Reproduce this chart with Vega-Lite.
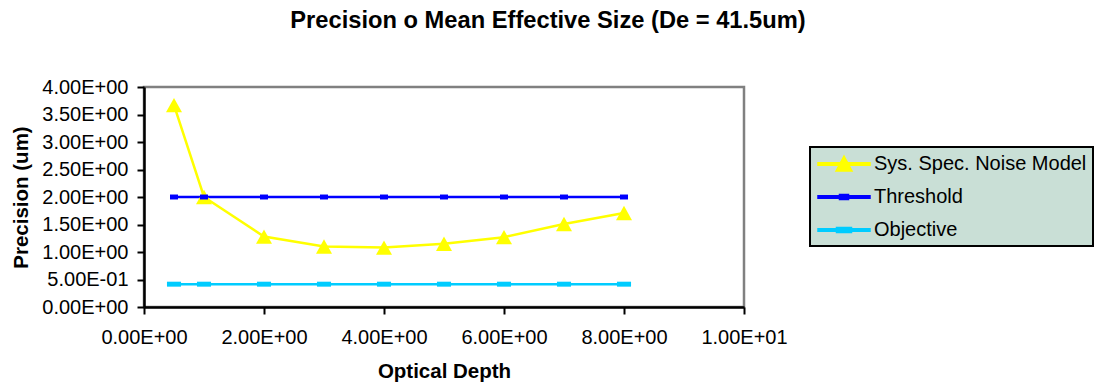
{
  "$schema": "https://vega.github.io/schema/vega-lite/v6.json",
  "width": 600,
  "height": 220,
  "autosize": {"type": "none"},
  "padding": {"left": 144, "top": 87, "right": 352, "bottom": 83},
  "background": "white",
  "title": {
    "text": "Precision o Mean Effective Size (De = 41.5um)",
    "font": "Liberation Sans",
    "fontSize": 23.7,
    "fontWeight": "bold",
    "color": "black",
    "anchor": "middle",
    "baseline": "alphabetic",
    "offset": 25,
    "dx": 104
  },
  "data": {
    "values": [
      {"series": "Sys. Spec. Noise Model", "x": 0.5, "y": 3.67},
      {"series": "Sys. Spec. Noise Model", "x": 1, "y": 2.0},
      {"series": "Sys. Spec. Noise Model", "x": 2, "y": 1.28},
      {"series": "Sys. Spec. Noise Model", "x": 3, "y": 1.1},
      {"series": "Sys. Spec. Noise Model", "x": 4, "y": 1.08},
      {"series": "Sys. Spec. Noise Model", "x": 5, "y": 1.15},
      {"series": "Sys. Spec. Noise Model", "x": 6, "y": 1.27},
      {"series": "Sys. Spec. Noise Model", "x": 7, "y": 1.51},
      {"series": "Sys. Spec. Noise Model", "x": 8, "y": 1.71},
      {"series": "Threshold", "x": 0.5, "y": 2.0},
      {"series": "Threshold", "x": 1, "y": 2.0},
      {"series": "Threshold", "x": 2, "y": 2.0},
      {"series": "Threshold", "x": 3, "y": 2.0},
      {"series": "Threshold", "x": 4, "y": 2.0},
      {"series": "Threshold", "x": 5, "y": 2.0},
      {"series": "Threshold", "x": 6, "y": 2.0},
      {"series": "Threshold", "x": 7, "y": 2.0},
      {"series": "Threshold", "x": 8, "y": 2.0},
      {"series": "Objective", "x": 0.5, "y": 0.415},
      {"series": "Objective", "x": 1, "y": 0.415},
      {"series": "Objective", "x": 2, "y": 0.415},
      {"series": "Objective", "x": 3, "y": 0.415},
      {"series": "Objective", "x": 4, "y": 0.415},
      {"series": "Objective", "x": 5, "y": 0.415},
      {"series": "Objective", "x": 6, "y": 0.415},
      {"series": "Objective", "x": 7, "y": 0.415},
      {"series": "Objective", "x": 8, "y": 0.415}
    ]
  },
  "encoding": {
    "x": {
      "field": "x",
      "type": "quantitative",
      "scale": {"domain": [0, 10], "nice": false, "zero": false},
      "axis": {
        "title": "Optical Depth",
        "values": [0, 2, 4, 6, 8, 10],
        "labelExpr": "slice(replace(format(datum.value,'.2e'),'e','E'),0,-1) + '0' + slice(format(datum.value,'.2e'),-1)",
        "grid": false,
        "domainColor": "black",
        "domainWidth": 2.5,
        "tickColor": "black",
        "tickWidth": 2,
        "tickSize": 7,
        "labelFont": "Liberation Sans",
        "labelFontSize": 20,
        "labelColor": "black",
        "labelPadding": 13,
        "labelFlush": false,
        "titleFont": "Liberation Sans",
        "titleFontSize": 20.5,
        "titleFontWeight": "bold",
        "titleColor": "black",
        "titlePadding": 14
      }
    },
    "y": {
      "field": "y",
      "type": "quantitative",
      "scale": {"domain": [0, 4], "nice": false},
      "axis": {
        "title": "Precision (um)",
        "values": [0, 0.5, 1, 1.5, 2, 2.5, 3, 3.5, 4],
        "labelExpr": "slice(replace(format(datum.value,'.2e'),'e','E'),0,-1) + '0' + slice(format(datum.value,'.2e'),-1)",
        "grid": false,
        "domainColor": "black",
        "domainWidth": 2.5,
        "tickColor": "black",
        "tickWidth": 2,
        "tickSize": 7,
        "labelFont": "Liberation Sans",
        "labelFontSize": 20,
        "labelColor": "black",
        "labelPadding": 9,
        "labelFlush": false,
        "titleFont": "Liberation Sans",
        "titleFontSize": 20.5,
        "titleFontWeight": "bold",
        "titleColor": "black",
        "titlePadding": 10
      }
    },
    "color": {
      "field": "series",
      "type": "nominal",
      "scale": {
        "domain": ["Sys. Spec. Noise Model", "Threshold", "Objective"],
        "range": ["#ffff00", "#0000ff", "#00ccff"]
      },
      "legend": {
        "title": null,
        "orient": "none",
        "legendX": 666,
        "legendY": 60,
        "fillColor": "#c9dfd6",
        "strokeColor": "black",
        "padding": 6,
        "symbolSize": 400,
        "symbolOffset": 17,
        "labelOffset": 19,
        "rowPadding": 12,
        "labelFont": "Liberation Sans",
        "labelFontSize": 20,
        "labelColor": "black",
        "labelLimit": 400
      }
    }
  },
  "layer": [
    {
      "mark": {"type": "line", "strokeWidth": 2.5}
    },
    {
      "transform": [{"filter": "datum.series === 'Sys. Spec. Noise Model'"}],
      "mark": {"type": "point", "filled": true, "opacity": 1, "size": 256, "shape": "M-1,0.9L0,-0.9L1,0.9Z"}
    },
    {
      "transform": [{"filter": "datum.series === 'Threshold'"}],
      "mark": {"type": "point", "filled": true, "opacity": 1, "size": 256, "shape": "M-0.5,-0.31H0.5V0.31H-0.5Z"}
    },
    {
      "transform": [{"filter": "datum.series === 'Objective'"}],
      "mark": {"type": "point", "filled": true, "opacity": 1, "size": 256, "shape": "M-0.88,-0.31H0.88V0.31H-0.88Z"}
    },
    {
      "transform": [{"filter": "datum.x < 0"}],
      "mark": {"type": "point", "filled": true, "opacity": 1},
      "encoding": {
        "shape": {
          "field": "series",
          "type": "nominal",
          "scale": {
            "domain": ["Sys. Spec. Noise Model", "Threshold", "Objective"],
            "range": [
              "M-2.6,-0.12H2.6V0.12H-2.6ZM-0.8,0.7L0,-0.8L0.8,0.7Z",
              "M-2.6,-0.12H2.6V0.12H-2.6ZM-0.45,-0.25H0.45V0.25H-0.45Z",
              "M-2.6,-0.12H2.6V0.12H-2.6ZM-0.75,-0.25H0.75V0.25H-0.75Z"
            ]
          },
          "legend": null
        }
      }
    }
  ],
  "config": {
    "view": {"stroke": "#808080", "strokeWidth": 2.5},
    "legend": {"strokeWidth": 2},
    "font": "Liberation Sans"
  }
}
